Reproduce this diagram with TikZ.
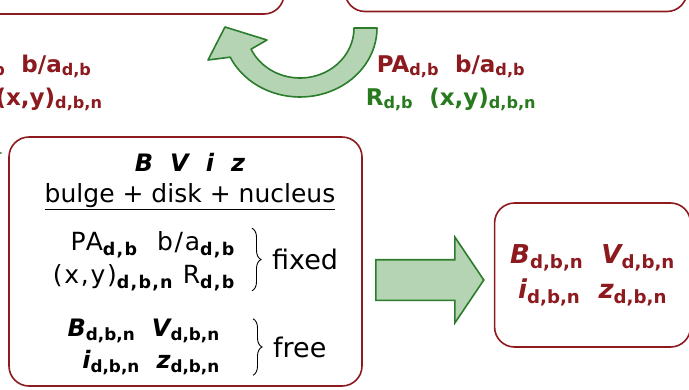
\documentclass[tikz,border=0pt]{standalone}
\usepackage{fontspec}
\setmainfont{DejaVu Sans}
\usepackage{xcolor}
\usetikzlibrary{arrows.meta,positioning,shapes.arrows,decorations.pathreplacing,calc}
\definecolor{BvRed}{HTML}{8C1A1F}
\definecolor{BvGreen}{HTML}{2B7D2B}
\definecolor{BvPale}{HTML}{B4D4B4}
\definecolor{BvLeaf}{HTML}{287A1E}
\newcommand{\lo}[1]{\textsubscript{\upshape\bfseries #1}}

\begin{document}
\begin{tikzpicture}[x=1pt, y=-1pt,
  panel/.style={draw=BvRed, line width=1.6pt, rounded corners=20pt, fill=white, inner sep=0pt},
  loopvars/.style={align=center, font=\bfseries\fontsize{23}{33}\selectfont},
  plain/.style={inner sep=0pt, font=\fontsize{27}{33}\selectfont},
  brace/.style={decorate, decoration={brace, amplitude=9pt}, line width=0.9pt},
  bigarrow/.style={draw=BvGreen, line width=1.6pt, fill=BvPale, line join=round},
  blockarrow/.style={single arrow, draw=BvGreen, line width=1.6pt, fill=BvPale, inner xsep=0pt, inner ysep=19.5pt,
    minimum height=108pt, single arrow head extend=22.5pt, single arrow tip angle=112}
]
  \useasboundingbox (0,0) rectangle (689,389);
  \clip (0,0) rectangle (689,389);
  \fill[white] (0,0) rectangle (689,389);

  % boxes of the row above, only their lower edges show
  \node[panel, minimum width=384pt, minimum height=114pt] (prior) at (92,-43) {};
  \node[panel, minimum width=342pt, minimum height=111pt] (loopin) at (516,-44) {};

  % curved arrow back to the left
  \filldraw[bigarrow] plot[domain=0:155, samples=40] ({300+77*cos(\x)},{28+69*sin(\x)})
    -- (208,60) -- (225,27) -- (267,40)
    -- plot[domain=155:0, samples=40] ({300+54*cos(\x)},{28+50*sin(\x)}) -- cycle;

  \node[loopvars, text=BvRed, anchor=east] (oldvars) at (106,83) {PA\lo{d,b}\ \ b/a\lo{d,b}\\R\lo{d,b}\ \ (x,y)\lo{d,b,n}};
  \node[loopvars] (newvars) at (451,83) {\textcolor{BvRed}{PA\lo{d,b}\ \ b/a\lo{d,b}}\\\textcolor{BvLeaf}{R\lo{d,b}\ \ (x,y)\lo{d,b,n}}};

  % main fit box
  \node[panel, minimum width=353pt, minimum height=249pt] (bviz) at (185.5,261.5) {};
  \coordinate (feed) at (-40,153);
  \draw[-{Latex[length=6pt]}, BvGreen, line width=1.6pt, shorten >=5pt] (feed) -- (feed -| bviz.west);

  \node[plain, font=\bfseries\itshape\fontsize{24}{28}\selectfont] (title) at (190,162) {B\hspace{17pt}V\hspace{17pt}i\hspace{17pt}z};
  \node[plain, font=\fontsize{25}{30}\selectfont] (parts) at (190,197) {\underline{bulge + disk + nucleus}};
  \node[plain, align=right, anchor=east, font=\fontsize{25}{33}\selectfont\addfontfeatures{LetterSpace=7}] (fixedvars) at (235,261) {PA\lo{d,b}\ \ b/a\lo{d,b}\\(x,y)\lo{d,b,n}\ R\lo{d,b}};
  \draw[brace] ($(fixedvars.north east)+(17,-3)$) -- ($(fixedvars.south east)+(17,0)$) coordinate[midway] (fixmid);
  \node[plain, anchor=west] (fixed) at ($(fixmid)+(20,0)$) {fixed};
  \node[plain, align=right, anchor=east, font=\bfseries\itshape\fontsize{24}{32}\selectfont] (freevars) at (220,347) {B\lo{d,b,n}\ \ V\lo{d,b,n}\\i\lo{d,b,n}\ \ z\lo{d,b,n}};
  \draw[brace] ($(freevars.north east)+(33,0)$) -- ($(freevars.south east)+(33,0)$) coordinate[midway] (freemid);
  \node[plain, anchor=west] (free) at ($(freemid)+(20,0)$) {free};

  % result
  \node[blockarrow, anchor=tail] (push) at (375,280) {};
  \node[panel, minimum width=196pt, minimum height=144pt, right=9pt of push, yshift=5pt, align=center,
    text=BvRed, font=\bfseries\itshape\fontsize{26}{35}\selectfont] (result)
    {B\lo{d,b,n}\ \ V\lo{d,b,n}\\i\lo{d,b,n}\ \ z\lo{d,b,n}};
\end{tikzpicture}
\end{document}
